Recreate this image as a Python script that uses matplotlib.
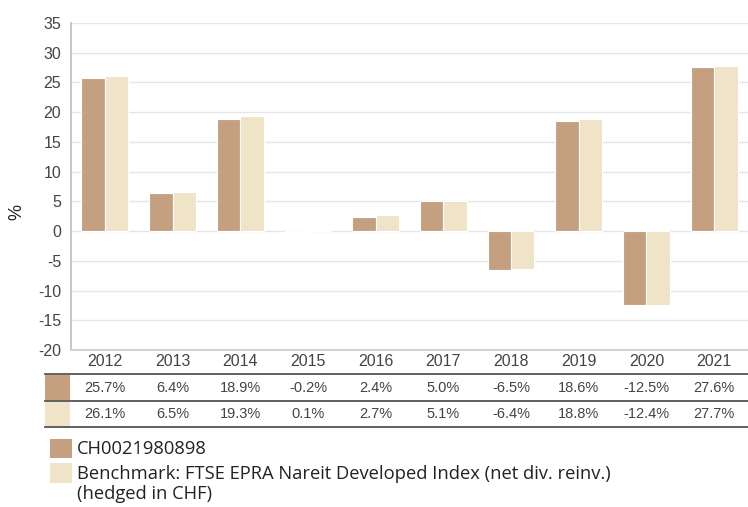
import numpy as np
import matplotlib.pyplot as plt
from matplotlib.patches import Rectangle
from matplotlib.lines import Line2D
import matplotlib.transforms as mtransforms

years = ['2012', '2013', '2014', '2015', '2016', '2017', '2018', '2019', '2020', '2021']
fund = [25.7, 6.4, 18.9, -0.2, 2.4, 5.0, -6.5, 18.6, -12.5, 27.6]
bench = [26.1, 6.5, 19.3, 0.1, 2.7, 5.1, -6.4, 18.8, -12.4, 27.7]
fund_name = 'CH0021980898'
bench_name = 'Benchmark: FTSE EPRA Nareit Developed Index (net div. reinv.)\n(hedged in CHF)'

c_fund = '#c4a081'
c_bench = '#efe3c8'
txt = '#444444'

plt.rcParams['axes.unicode_minus'] = False

W, H = 748, 507
fig = plt.figure(figsize=(W / 100, H / 100), dpi=100)

def fx(px):
    return px / W

def fy(py):
    return 1 - py / H

ax = fig.add_axes([fx(71), fy(350), 1 - fx(71), fy(23) - fy(350)])

x = np.arange(len(years))
bw = 0.345
ax.bar(x - bw / 2, fund, bw, color=c_fund, edgecolor='white', linewidth=0.8, zorder=3)
ax.bar(x + bw / 2, bench, bw, color=c_bench, edgecolor='white', linewidth=0.8, zorder=3)

ax.set_xlim(-0.5, len(years) - 0.5)
ax.set_ylim(-20, 35)
ax.set_yticks(np.arange(-20, 36, 5))
ax.yaxis.grid(True, color='#e6e6e6', linewidth=1)
ax.set_axisbelow(True)
for s in ['top', 'right']:
    ax.spines[s].set_visible(False)
ax.spines['left'].set_color('#bdbdbd')
ax.spines['bottom'].set_color('#cccccc')
ax.spines['left'].set_linewidth(1.2)
ax.spines['bottom'].set_linewidth(1.2)
ax.tick_params(axis='both', length=0, labelsize=11.5, labelcolor=txt)
ax.tick_params(axis='x', pad=3)
ax.tick_params(axis='y', pad=7)
ax.set_xticks(x)
ax.set_xticklabels(years, fontfamily='Liberation Sans')
for lbl in ax.get_yticklabels():
    lbl.set_fontfamily('Liberation Sans')
fig.text(fx(17), fy(212), '%', rotation=90, ha='center', va='center', fontsize=13, color='#222222',
         fontfamily='Liberation Sans')

# table under the chart
tr = mtransforms.blended_transform_factory(ax.transData, fig.transFigure)
for yl in [374, 401, 427]:
    fig.add_artist(Line2D([fx(45), 1], [fy(yl), fy(yl)], color='#555555', linewidth=1.3))
fig.add_artist(Rectangle((fx(45), fy(400)), fx(25), fy(375) - fy(400), color=c_fund, lw=0))
fig.add_artist(Rectangle((fx(45), fy(427)), fx(25), fy(402) - fy(427), color=c_bench, lw=0))
for i in range(len(years)):
    fig.text(x[i], fy(388), f'{fund[i]:.1f}%', transform=tr, ha='center', va='center',
             fontsize=10.5, color=txt, fontfamily='Liberation Sans')
    fig.text(x[i], fy(414), f'{bench[i]:.1f}%', transform=tr, ha='center', va='center',
             fontsize=10.5, color=txt, fontfamily='Liberation Sans')

# legend
fig.add_artist(Rectangle((fx(50), fy(458)), fx(22), fy(439) - fy(458), color=c_fund, lw=0))
fig.add_artist(Rectangle((fx(50), fy(483)), fx(22), fy(463) - fy(483), color=c_bench, lw=0))
fig.text(fx(77), fy(449), fund_name, ha='left', va='center', fontsize=13.2, color='#222222',
         fontfamily='Open Sans')
fig.text(fx(77), fy(484), bench_name, ha='left', va='center', fontsize=13.2, color='#222222',
         fontfamily='Open Sans', linespacing=1.2)

fig.savefig('out.png', dpi=100)
